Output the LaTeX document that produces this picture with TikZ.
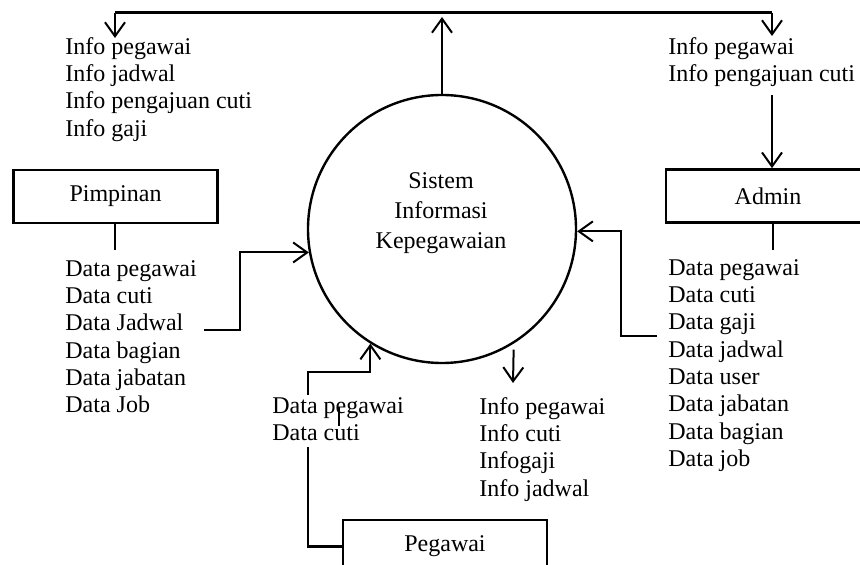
\documentclass[tikz,border=0pt]{standalone}
\usepackage{fontspec}
\setmainfont{Liberation Serif}
\usetikzlibrary{arrows.meta}
\begin{document}
\begin{tikzpicture}[x=0.5pt,y=-0.5pt,
  every node/.style={font=\fontsize{12}{13.65}\selectfont},
  entity/.style={draw, line width=1.35pt, minimum width=102pt, minimum height=26.5pt, inner sep=0pt},
  flowtext/.style={align=left, anchor=north west, inner sep=0pt},
  link/.style={line width=1pt},
  flow/.style={link, -{Straight Barb[length=7pt,width=10pt]}},
]
\useasboundingbox (0,0) rectangle (860,565);
\clip (0,0) rectangle (860,565);

% process
\node[draw, circle, line width=1.2pt, minimum size=134pt, inner sep=0pt] (sys) at (442,229) {};
\node[align=center, font=\fontsize{12}{15}\selectfont] (systxt) at (441,213) {Sistem\\Informasi\\Kepegawaian};

% external entities
\node[entity] (pimp) at (115.5,196.5) {Pimpinan};
\node[entity] (adm) at (768,196) {Admin};
\node[entity] (peg) at (445,546.5) {Pegawai};

% flow labels
\node[flowtext] (tlinfo) at (65,37) {Info pegawai\\Info jadwal\\Info pengajuan cuti\\Info gaji};
\node[flowtext] (trinfo) at (668,37) {Info pegawai\\Info pengajuan cuti};
\node[flowtext] (pdata) at (65,260) {Data pegawai\\Data cuti\\Data Jadwal\\Data bagian\\Data jabatan\\Data Job};
\node[flowtext] (adata) at (668,259) {Data pegawai\\Data cuti\\Data gaji\\Data jadwal\\Data user\\Data jabatan\\Data bagian\\Data job};
\node[flowtext] (gdata) at (272,397) {Data pegawai\\Data cuti};
\node[flowtext] (oinfo) at (479,397) {Info pegawai\\Info cuti\\Infogaji\\Info jadwal};

% outgoing information bus
\coordinate (busL) at (115,13);
\coordinate (busR) at (772,13);
\coordinate (uptip) at (442,17);
\coordinate (tltip) at (115,38);
\coordinate (trtip) at (772,36);
\draw[line width=1.5pt] (busL) -- (busR);
\draw[flow] (sys.north) -- (uptip);
\draw[flow] (busL) -- (tltip);
\draw[flow] (busR) -- (trtip);

% admin in/out
\coordinate (trtail) at (772,95);
\draw[flow] (trtail) -- (trtail |- adm.north);
\coordinate (astub) at (773,250);
\draw[line width=1.35pt] (adm.south -| astub) -- (astub);
\coordinate (adtail) at (657,336);
\draw[flow] (adtail) -- ++(-36,0) |- (sys.-1.5);

% pimpinan input
\coordinate (pstub) at (115,250);
\draw[line width=1.35pt] (pimp.south -| pstub) -- (pstub);
\coordinate (pdtail) at (204,330);
\draw[flow] (pdtail) -- ++(36,0) |- (sys.190);

% pegawai input
\coordinate (gapbot) at (308,447);
\coordinate (gaptop) at (308,395);
\draw[line width=1.4pt] (peg.west) -| (gapbot);
\draw[flow] (gaptop) -- (308,372) -| (sys.238);
\draw[line width=1.4pt] (339,407) -- (339,426);

% information to pegawai
\coordinate (outtip) at (513,383);
\draw[flow] ([yshift=-3pt]sys.302) -- (outtip);
\end{tikzpicture}
\end{document}
